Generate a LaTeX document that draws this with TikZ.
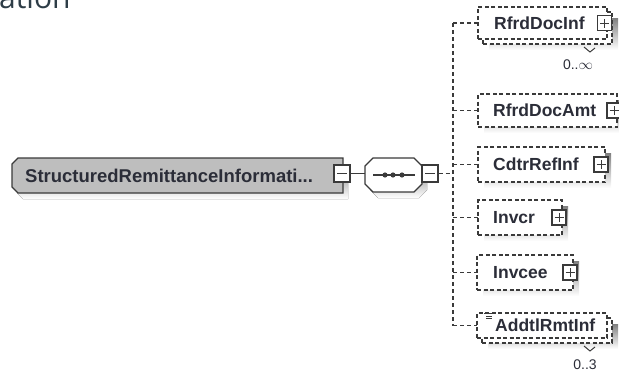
\documentclass[tikz,border=0pt]{standalone}
\usepackage{fontspec}
\setmainfont{Liberation Sans}
\newfontfamily\headfont{Open Sans}
\usetikzlibrary{backgrounds}

\definecolor{ink}{HTML}{2B2D38}
\definecolor{edge}{HTML}{3A3A3A}
\definecolor{elemfill}{HTML}{BEBEBE}
\definecolor{shade}{HTML}{C3C3C3}
\definecolor{headink}{HTML}{2E3D47}

% outline with chamfered corners: x1,y1,x2,y2, left chamfer, right chamfer
\newcommand\chamfbox[6]{({#1+#5},#2) -- ({#3-#6},#2) -- (#3,{#2+#6}) -- (#3,{#4-#6})
  -- ({#3-#6},#4) -- ({#1+#5},#4) -- (#1,{#4-#5}) -- (#1,{#2+#5}) -- cycle}

\begin{document}
\begin{tikzpicture}[x=1pt,y=-1pt,
  hold/.style={rectangle, draw=none, inner sep=0pt, outer sep=0pt},
  outline/.style={draw=edge, line width=1.4pt},
  kidbase/.style={rectangle, draw=edge, line width=1.3pt, dash pattern=on 4pt off 2.5pt,
    fill=white, inner sep=0pt, outer sep=0pt},
  lbl/.style={font=\bfseries\fontsize{17.5}{20}\selectfont, text=ink, inner sep=0pt},
  occ/.style={font=\fontsize{14}{16}\selectfont, text=ink, inner sep=0pt},
  conn/.style={draw=edge, line width=1.3pt, dash pattern=on 4pt off 3pt},
  link/.style={draw=edge, line width=1.3pt},
  pbox/.style={rectangle, draw=edge, line width=1.1pt, fill=white, inner sep=0pt,
    minimum width=14pt, minimum height=15pt,
    path picture={\draw[edge, line width=1pt]
      ([xshift=-4.5pt]path picture bounding box.center) -- ([xshift=4.5pt]path picture bounding box.center)
      ([yshift=-4.5pt]path picture bounding box.center) -- ([yshift=4.5pt]path picture bounding box.center);}},
  mbox/.style={rectangle, draw=edge, line width=1.1pt, fill=white, inner sep=0pt,
    minimum width=16pt, minimum height=17pt,
    path picture={\draw[edge, line width=1pt]
      ([xshift=-5pt]path picture bounding box.center) -- ([xshift=5pt]path picture bounding box.center);}}
]
\useasboundingbox (0,0) rectangle (619,372);

% heading fragment at the top edge
\begin{scope}
  \clip (0,0) rectangle (619,372);
  \node[anchor=base west, font=\headfont\fontsize{30}{32}\selectfont, text=headink, inner sep=0pt]
    (head) at (-1,8.5) {ation};
\end{scope}

% main element
\fill[shade] \chamfbox{17}{164}{348}{199}{6}{0};
\fill[elemfill] \chamfbox{12}{158}{343}{193}{6}{0};
\draw[outline] \chamfbox{12}{158}{343}{193}{6}{0};
\node[hold, minimum width=331pt, minimum height=35pt] (elem) at (177.5,175.5) {};
\node[lbl, font=\bfseries\fontsize{18.5}{21}\selectfont, anchor=west] (elemtxt)
  at ([xshift=13pt]elem.west) {StructuredRemittanceInformati...};
\node[mbox] (m1) at (342,173.5) {};

% sequence compositor
\fill[shade] \chamfbox{370}{164}{427}{198}{8}{8};
\fill[white] \chamfbox{365}{158}{422}{192}{8}{8};
\draw[outline] \chamfbox{365}{158}{422}{192}{8}{8};
\node[hold, minimum width=57pt, minimum height=34pt] (seq) at (393.5,175) {};
\draw[link] (m1.east) -- (m1.east -| seq.west);
\draw[link] ([xshift=-20.5pt]seq.center) -- ([xshift=21.5pt]seq.center);
\foreach \dx in {-8.5,-0.5,8.5}
  \fill[edge] ([xshift=\dx pt]seq.center) circle (2.6pt);
\node[mbox] (m2) at (430,173.5) {};

% spine of the sequence
\coordinate (spine) at (453,173.5);

% RfrdDocInf (0..unbounded)
\node[kidbase, minimum width=129pt, minimum height=32pt] (rfiB) at (547.5,28) {};
\node[kidbase, minimum width=129pt, minimum height=32pt] (rfi) at (542.5,23) {};
\node[lbl, anchor=west] (rfit) at ([xshift=16pt]rfi.west) {RfrdDocInf};
\node[pbox] (rfip) at ([xshift=-2.5pt]rfi.east) {};
\draw[edge, line width=1pt] ([xshift=-28pt,yshift=-3pt]rfiB.south east) -- ++(6,5) -- ++(5,-4);
\node[occ] (rfio) at (578,65) {0..$\infty$};

% RfrdDocAmt
\node[kidbase, minimum width=139pt, minimum height=33pt] (rda) at (547.5,110.5) {};
\node[lbl, anchor=west] (rdat) at ([xshift=15pt]rda.west) {RfrdDocAmt};
\node[pbox] (rdap) at ([xshift=-3pt]rda.east) {};

% CdtrRefInf
\node[kidbase, minimum width=127pt, minimum height=35pt] (cri) at (541.5,164.5) {};
\node[lbl, anchor=west] (crit) at ([xshift=15pt]cri.west) {CdtrRefInf};
\node[pbox] (crip) at ([xshift=-4pt]cri.east) {};

% Invcr
\node[kidbase, minimum width=84pt, minimum height=35pt] (inr) at (520,217.5) {};
\node[lbl, anchor=west] (inrt) at ([xshift=15pt]inr.west) {Invcr};
\node[pbox] (inrp) at ([xshift=-3pt]inr.east) {};

% Invcee
\node[kidbase, minimum width=96pt, minimum height=35pt] (ine) at (525,272.5) {};
\node[lbl, anchor=west] (inet) at ([xshift=16pt]ine.west) {Invcee};
\node[pbox] (inep) at ([xshift=-3pt]ine.east) {};

% AddtlRmtInf (0..3)
\node[kidbase, minimum width=130pt, minimum height=25pt] (adlB) at (547,330.5) {};
\node[kidbase, minimum width=130pt, minimum height=25pt] (adl) at (542,325.5) {};
\node[lbl, anchor=west] (adlt) at ([xshift=18pt]adl.west) {AddtlRmtInf};
\draw[edge, line width=0.9pt]
  ([xshift=7pt,yshift=-0.5pt]adl.north west) -- ++(8,0)
  ([xshift=9pt,yshift=-3pt]adl.north west) -- ++(6,0)
  ([xshift=9pt,yshift=-5.5pt]adl.north west) -- ++(6,0);
\draw[edge, line width=1pt] ([xshift=-28pt,yshift=-3pt]adlB.south east) -- ++(6,5) -- ++(5,-4);
\node[occ] (adlo) at (585,365) {0..3};

% drop shadows of the child boxes
\begin{scope}[on background layer]
  \foreach \k in {rfiB,rda,cri,inr,ine,adlB}
    \fill[shade] ([shift={(6,6)}]\k.north west) rectangle ([shift={(6,6)}]\k.south east);
\end{scope}

% connectors
\draw[conn] (m2.east) -- (spine);
\draw[conn] (spine |- rfi.west) -- (spine |- adl.west);
\foreach \k in {rfi,rda,cri,inr,ine,adl}
  \draw[conn] (spine |- \k.west) -- (\k.west);
\end{tikzpicture}
\end{document}
